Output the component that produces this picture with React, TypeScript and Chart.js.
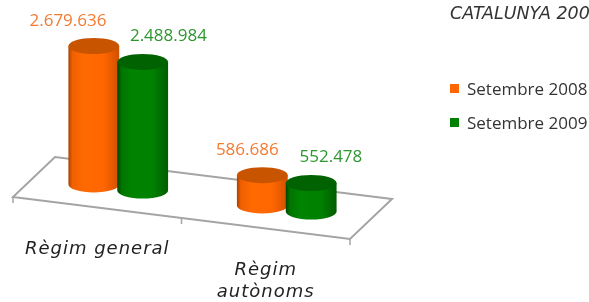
import React, { useEffect, useRef } from "react";
import { Chart, registerables } from "chart.js";

Chart.register(...registerables);

// ---- data ----
const categories: string[][] = [["Règim general"], ["Règim", "autònoms"]];
const seriesNames = ["Setembre 2008", "Setembre 2009"];
const setembre2008 = [2679636, 586686];
const setembre2009 = [2488984, 552478];
const chartTitle = "CATALUNYA 2009";
const yMax = 3000000;

// ---- style ----
const SLOPE = 0.1246; // tilt of the floor (px down per px right)
const DEPTH = { x: 42, y: -40 }; // depth vector of the floor
const RY = 8; // cylinder ellipse half-height
const palette = [
  { body: ["#a84400", "#f06000", "#ff6a00", "#ff6600", "#d05000"], top: "#c85400", text: "#f47a30", legend: "#ff6600" },
  { body: ["#004400", "#007400", "#008400", "#008000", "#005c00"], top: "#006200", text: "#2e962e", legend: "#008000" },
];
const labelFont = "italic 18px 'DejaVu Sans'";
const valueFont = "17px 'Open Sans'";
const legendFont = "17px 'Open Sans'";
const titleFont = "italic 17.5px 'DejaVu Sans'";

function fmt(n: number): string {
  return String(n).replace(/\B(?=(\d{3})+(?!\d))/g, ".");
}

function drawCylinder(ctx: CanvasRenderingContext2D, cx: number, yTop: number, yBot: number, w: number, c: any) {
  const rx = w / 2;
  const left = cx - rx;
  const right = cx + rx;
  const g = ctx.createLinearGradient(left, 0, right, 0);
  g.addColorStop(0, c.body[0]);
  g.addColorStop(0.08, c.body[1]);
  g.addColorStop(0.3, c.body[2]);
  g.addColorStop(0.7, c.body[3]);
  g.addColorStop(1, c.body[4]);
  ctx.beginPath();
  ctx.moveTo(left, yTop);
  ctx.lineTo(left, yBot);
  ctx.ellipse(cx, yBot, rx, RY, 0, Math.PI, 0, true);
  ctx.lineTo(right, yTop);
  ctx.closePath();
  ctx.fillStyle = g;
  ctx.fill();
  ctx.beginPath();
  ctx.ellipse(cx, yTop, rx, RY, 0, 0, Math.PI * 2);
  ctx.fillStyle = c.top;
  ctx.fill();
}

const cylinderPlugin = {
  id: "cylinders",
  beforeDatasetsDraw(chart: any) {
    const ctx: CanvasRenderingContext2D = chart.ctx;
    const { left, right, bottom } = chart.chartArea;
    const fl = { x: left, y: bottom };
    const fr = { x: right, y: bottom + SLOPE * (right - left) };
    const bl = { x: fl.x + DEPTH.x, y: fl.y + DEPTH.y };
    const br = { x: fr.x + DEPTH.x, y: fr.y + DEPTH.y };
    ctx.save();
    ctx.strokeStyle = "#a4a4a4";
    ctx.lineWidth = 2;
    ctx.beginPath();
    ctx.moveTo(fl.x, fl.y);
    ctx.lineTo(fr.x, fr.y);
    ctx.lineTo(br.x, br.y);
    ctx.lineTo(bl.x, bl.y);
    ctx.closePath();
    ctx.stroke();
    // thickness ticks
    const xs = chart.scales.x;
    const mid = (xs.getPixelForValue(0) + xs.getPixelForValue(1)) / 2;
    const ticks = [fl.x, mid, fr.x];
    ctx.lineWidth = 1.5;
    ticks.forEach((tx) => {
      const ty = bottom + SLOPE * (tx - left);
      ctx.beginPath();
      ctx.moveTo(tx, ty);
      ctx.lineTo(tx, ty + 6);
      ctx.stroke();
    });
    // category labels
    ctx.fillStyle = "#222222";
    ctx.font = labelFont;
    (ctx as any).letterSpacing = "1px";
    ctx.textAlign = "center";
    ctx.textBaseline = "alphabetic";
    categories.forEach((lines, i) => {
      const x = xs.getPixelForValue(i);
      const y0 = bottom + SLOPE * (x - left) + 47;
      lines.forEach((ln, j) => ctx.fillText(ln, x, y0 + j * 22));
    });
    (ctx as any).letterSpacing = "0px";
    ctx.restore();
  },
  afterDatasetsDraw(chart: any) {
    const ctx: CanvasRenderingContext2D = chart.ctx;
    const { left } = chart.chartArea;
    ctx.save();
    const nCat = categories.length;
    for (let i = 0; i < nCat; i++) {
      chart.data.datasets.forEach((ds: any, d: number) => {
        const el = chart.getDatasetMeta(d).data[i];
        const shift = SLOPE * (el.x - left) + DEPTH.y / 2;
        const cx = el.x + DEPTH.x / 2;
        const yTop = el.y + shift;
        const yBot = el.base + shift;
        const w = el.width * 1.04;
        drawCylinder(ctx, cx, yTop, yBot, w, palette[d]);
        // value label
        const h = yBot - yTop;
        const dx = d === 0 ? -12 - 0.1 * h : 18 + 0.06 * h;
        ctx.font = valueFont;
        ctx.fillStyle = palette[d].text;
        ctx.textAlign = "center";
        ctx.textBaseline = "alphabetic";
        ctx.fillText(fmt(ds.data[i]), cx + dx, yTop - 20.5);
      });
    }
    ctx.restore();
  },
  afterDraw(chart: any) {
    const ctx: CanvasRenderingContext2D = chart.ctx;
    ctx.save();
    ctx.textAlign = "left";
    ctx.textBaseline = "alphabetic";
    ctx.fillStyle = "#333333";
    ctx.font = titleFont;
    ctx.fillText(chartTitle, 450, 19);
    ctx.font = legendFont;
    seriesNames.forEach((name, d) => {
      const y = 84 + d * 34;
      ctx.fillStyle = palette[d].legend;
      ctx.fillRect(450, y, 9, 9);
      ctx.fillStyle = "#333333";
      ctx.fillText(name, 467, y + 11);
    });
    ctx.restore();
  },
};

export default function App() {
  const ref = useRef<HTMLCanvasElement | null>(null);
  useEffect(() => {
    document.body.style.margin = "0";
    const canvas = ref.current!;
    const chart = new Chart(canvas, {
      type: "bar",
      data: {
        labels: categories.map((c) => c.join(" ")),
        datasets: [
          { label: seriesNames[0], data: setembre2008, backgroundColor: "rgba(0,0,0,0)", borderWidth: 0 },
          { label: seriesNames[1], data: setembre2009, backgroundColor: "rgba(0,0,0,0)", borderWidth: 0 },
        ],
      },
      options: {
        responsive: false,
        animation: false,
        devicePixelRatio: 1,
        layout: { padding: { left: 13, right: 239, top: 42, bottom: 105 } },
        datasets: { bar: { categoryPercentage: 0.58, barPercentage: 1.0 } },
        scales: {
          x: { display: false, offset: true },
          y: { display: false, min: 0, max: yMax },
        },
        plugins: { legend: { display: false }, title: { display: false }, tooltip: { enabled: false } },
      },
      plugins: [cylinderPlugin],
    });
    return () => chart.destroy();
  }, []);
  return (
    <div style={{ width: 589, height: 302, background: "#ffffff" }}>
      <canvas ref={ref} width={589} height={302} />
    </div>
  );
}
